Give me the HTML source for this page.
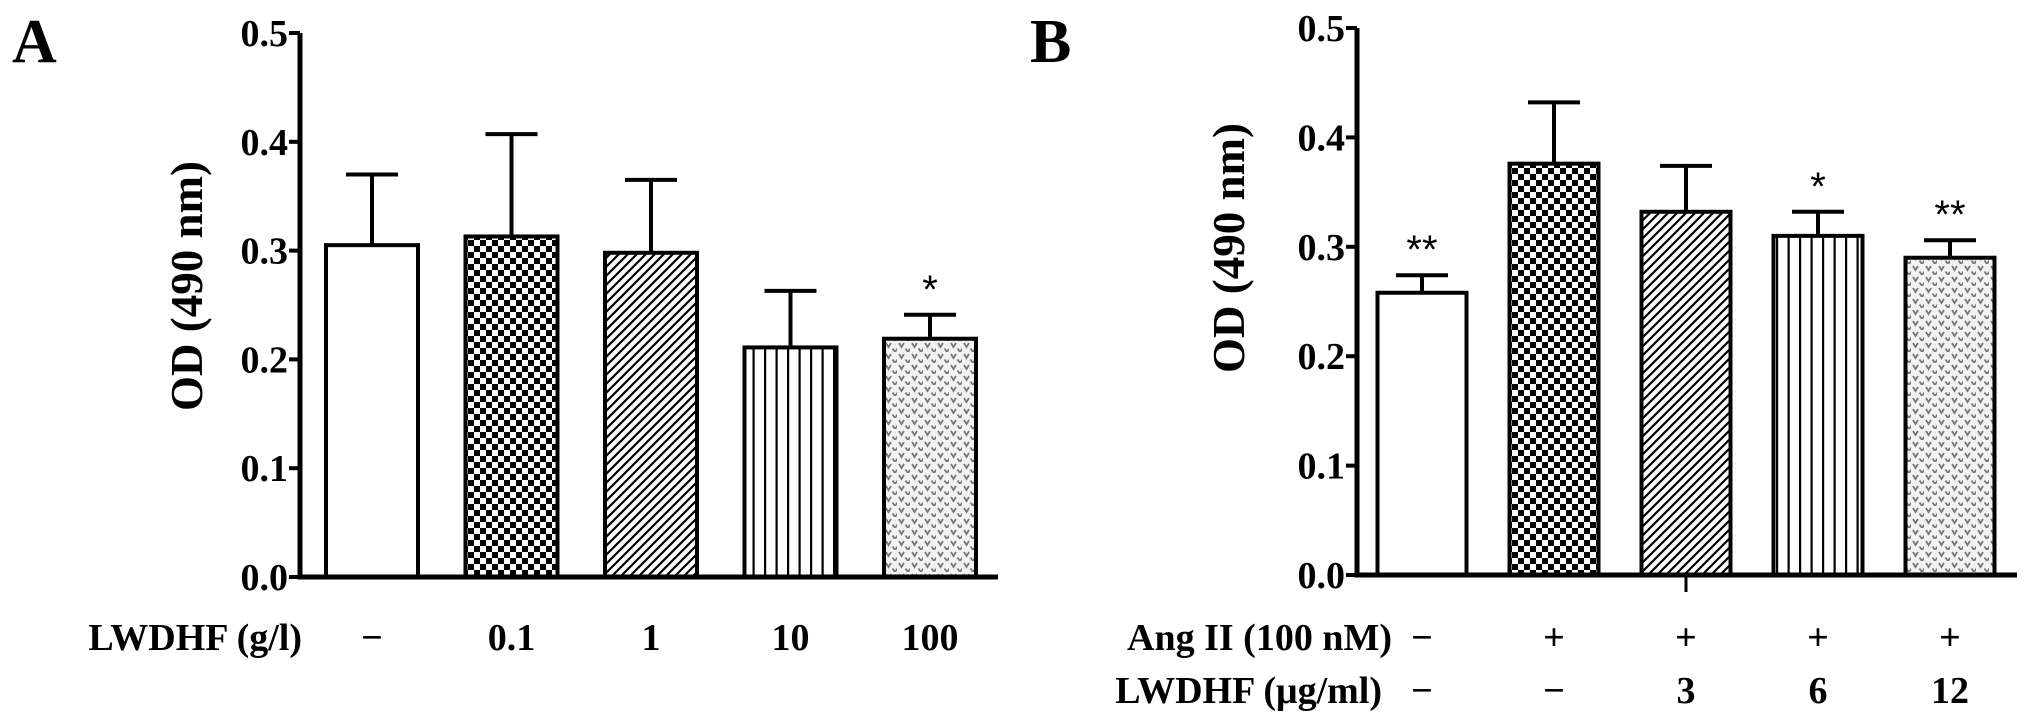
<!DOCTYPE html>
<html><head><meta charset="utf-8"><style>
html,body{margin:0;padding:0;background:#fff;}
svg{display:block;font-family:"Liberation Serif",serif;font-weight:bold;}
</style></head><body>
<svg id="chart" width="2031" height="726" viewBox="0 0 2031 726" xmlns="http://www.w3.org/2000/svg">
<defs>
<pattern id="pChk" width="12" height="12" patternUnits="userSpaceOnUse"><rect width="12" height="12" fill="#fff"/><rect x="0" y="0" width="6" height="6" fill="#000"/><rect x="6" y="6" width="6" height="6" fill="#000"/></pattern>
<pattern id="pDiag" width="9" height="9" patternUnits="userSpaceOnUse"><rect width="9" height="9" fill="#fff"/><path d="M-2,11 L11,-2 M-2,2 L2,-2 M7,11 L11,7" stroke="#000" stroke-width="2.2"/></pattern>
<pattern id="pVert" width="11.5" height="10" patternUnits="userSpaceOnUse"><rect width="11.5" height="10" fill="#fff"/><rect x="5" y="0" width="2.2" height="10" fill="#000"/></pattern>
<pattern id="pHeart" width="13" height="11" patternUnits="userSpaceOnUse"><rect width="13" height="11" fill="#f2f2f2"/><path d="M2,2 L4.5,6 L7,2 M8.5,7.5 L11,11 L13.5,7.5" stroke="#777" stroke-width="1.8" fill="none"/></pattern>
</defs>
<g id="panelA"></g>
<g id="panelB"></g>
</svg>
<script>
const ticks = [0, 0.1, 0.2, 0.3, 0.4, 0.5];
const tickLabels = ["0.0", "0.1", "0.2", "0.3", "0.4", "0.5"];
const catsA = ["−", "0.1", "1", "10", "100"];
const valuesA = [0.305, 0.313, 0.298, 0.211, 0.219];
const errorsA = [0.065, 0.094, 0.067, 0.052, 0.022];
const starsA = ["", "", "", "", "*"];
const angB = ["−", "+", "+", "+", "+"];
const lwdB = ["−", "−", "3", "6", "12"];
const valuesB = [0.258, 0.376, 0.332, 0.310, 0.290];
const errorsB = [0.016, 0.056, 0.042, 0.022, 0.016];
const starsB = ["**", "", "", "*", "**"];
const fills = ["#fff", "url(#pChk)", "url(#pDiag)", "url(#pVert)", "url(#pHeart)"];
const NS = "http://www.w3.org/2000/svg";
function mk(parent, tag, attrs, text) {
  const e = document.createElementNS(NS, tag);
  for (const k in attrs) e.setAttribute(k, attrs[k]);
  if (text !== undefined) e.textContent = text;
  parent.appendChild(e);
  return e;
}
function drawPanel(g, cfg, vals, errs, stars) {
  const y = v => cfg.y0 - (v / 0.5) * (cfg.y0 - cfg.y5);
  const xc = i => cfg.x0 + i * cfg.step;
  vals.forEach((v, i) => {
    const bar = mk(g, "rect", {x: xc(i) - cfg.bw / 2, y: y(v), width: cfg.bw, height: cfg.y0 - y(v), fill: fills[i], stroke: "#000", "stroke-width": 4});
    
    
    const top = y(v + errs[i]);
    const eb = mk(g, "path", {d: `M${xc(i)},${y(v)} V${top} M${xc(i) - 26},${top} H${xc(i) + 26}`, stroke: "#000", "stroke-width": 4, fill: "none"});
    
    
    if (stars[i]) {
      const s = mk(g, "text", {x: xc(i), y: top - 12, "text-anchor": "middle", "font-size": 40, "font-weight": "normal", "font-family": "Liberation Sans, sans-serif"}, stars[i]);
      
      
    }
  });
  const ax = mk(g, "path", {d: `M${cfg.ax},${cfg.y5} V${cfg.y0} H${cfg.xEnd}`, stroke: "#000", "stroke-width": 5, fill: "none"});
  
  
  ticks.forEach((t, i) => {
    const tk = mk(g, "line", {x1: cfg.ax - 11, x2: cfg.ax, y1: y(t), y2: y(t), stroke: "#000", "stroke-width": 4});
    
    
    const tl = mk(g, "text", {x: cfg.ax - 12, y: y(t) + 13, "text-anchor": "end", "font-size": 38}, tickLabels[i]);
    
    
  });
  const t = mk(g, "text", {x: 0, y: 0, transform: `translate(${cfg.titleX},${cfg.titleY}) rotate(-90)`, "text-anchor": "middle", "font-size": 45}, "OD (490 nm)");
  
  
  const L = mk(g, "text", {x: cfg.lx, y: cfg.ly, "font-size": 62}, cfg.letter);
  
  
  return xc;
}
const gA = document.getElementById("panelA");
const xA = drawPanel(gA, {x0: 372, step: 139.5, bw: 92, y0: 577, y5: 33, ax: 300, xEnd: 998, titleX: 202, titleY: 286, lx: 12, ly: 62, letter: "A"}, valuesA, errorsA, starsA);
const la = mk(gA, "text", {x: 302, y: 650, "text-anchor": "end", "font-size": 38}, "LWDHF (g/l)");


catsA.forEach((c, i) => {
  const e = mk(gA, "text", {x: xA(i), y: 650, "text-anchor": "middle", "font-size": 38}, c);
  
  
});
const gB = document.getElementById("panelB");
const xB = drawPanel(gB, {x0: 1422, step: 132, bw: 89, y0: 575, y5: 28, ax: 1357, xEnd: 2017, titleX: 1244, titleY: 248, lx: 1030, ly: 62, letter: "B"}, valuesB, errorsB, starsB);
const tk3 = mk(gB, "line", {x1: xB(2), x2: xB(2), y1: 575, y2: 592, stroke: "#000", "stroke-width": 3});


const r1 = mk(gB, "text", {x: 1392, y: 650, "text-anchor": "end", "font-size": 38}, "Ang II (100 nM)");


const r2 = mk(gB, "text", {x: 1382, y: 703, "text-anchor": "end", "font-size": 38}, "LWDHF (μg/ml)");


angB.forEach((c, i) => {
  const e = mk(gB, "text", {x: xB(i), y: 650, "text-anchor": "middle", "font-size": 38}, c);
  
  
});
lwdB.forEach((c, i) => {
  const e = mk(gB, "text", {x: xB(i), y: 703, "text-anchor": "middle", "font-size": 38}, c);
  
  
});
</script>
</body></html>
